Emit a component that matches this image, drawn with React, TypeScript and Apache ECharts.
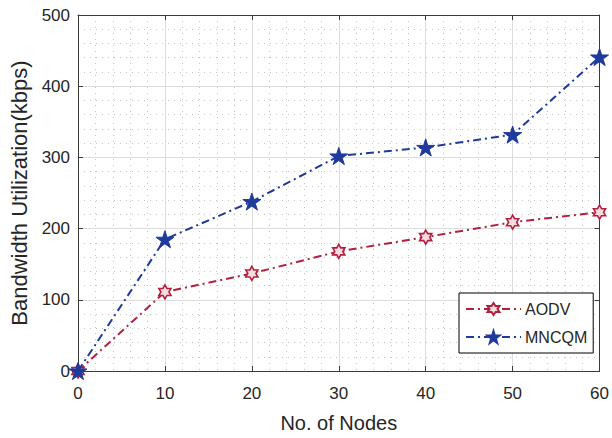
import React, { useEffect, useRef } from "react";
import * as echarts from "echarts";

const nodes = [0, 10, 20, 30, 40, 50, 60];
const aodv = [0, 111, 137, 168, 188, 209, 223];
const mncqm = [0, 185, 238, 302, 314, 332, 441];
const seriesNames = ["AODV", "MNCQM"];
const xAxisName = "No. of Nodes";
const yAxisName = "Bandwidth Utilization(kbps)";

const HEXAGRAM =
  "path://M50,0L64.43,25L93.3,25L78.87,50L93.3,75L64.43,75L50,100L35.57,75L6.7,75L21.13,50L6.7,25L35.57,25Z";
const PENTAGRAM =
  "path://M50,0L61.2,34.55L97.55,34.55L68.2,55.9L79.4,90.45L50,69.1L20.6,90.45L31.8,55.9L2.45,34.55L38.8,34.55Z";

const RED = "#b41f3c";
const BLUE = "#1e3a9c";
const FONT = "Liberation Sans";
const TEXT = "#262626";
const AXIS = "#3a3a3a";

export default function App() {
  const ref = useRef<HTMLDivElement>(null);
  useEffect(() => {
    if (!ref.current) return;
    const chart = echarts.init(ref.current, undefined, { renderer: "svg" });
    const minorSplit = {
      show: true,
      lineStyle: { color: "#c4c4c4", width: 1, type: [1, 5] as any },
    };
    const majorSplit = { show: true, lineStyle: { color: "#dcdcdc", width: 1 } };
    const dash = [8, 4, 2, 4];
    chart.setOption({
      animation: false,
      backgroundColor: "#ffffff",
      textStyle: { fontFamily: FONT },
      grid: { left: 78, right: 10, top: 15, bottom: 67 },
      legend: {
        orient: "vertical",
        left: 459,
        top: 293,
        width: 137,
        padding: [8, 6, 8, 6],
        itemGap: 12,
        itemWidth: 55,
        itemHeight: 15,
        borderColor: "#000000",
        borderWidth: 1,
        backgroundColor: "#ffffff",
        borderRadius: 0,
        data: seriesNames,
        textStyle: { fontFamily: FONT, fontSize: 16, color: TEXT, padding: [0, 0, 0, -1] },
      },
      xAxis: [
        {
          type: "value",
          min: 0,
          max: 60,
          interval: 10,
          name: xAxisName,
          nameLocation: "middle",
          nameGap: 42,
          nameTextStyle: { fontFamily: FONT, fontSize: 20, color: TEXT },
          axisLine: { show: true, onZero: false, lineStyle: { color: AXIS, width: 1 } },
          axisTick: { show: true, inside: true, length: 5, lineStyle: { color: AXIS } },
          axisLabel: { fontFamily: FONT, fontSize: 17, color: TEXT, margin: 14 },
          splitLine: majorSplit,
          minorTick: { show: false, splitNumber: 5 },
          minorSplitLine: minorSplit,
        },
        {
          type: "value",
          position: "top",
          min: 0,
          max: 60,
          interval: 10,
          axisLine: { show: true, onZero: false, lineStyle: { color: AXIS, width: 1 } },
          axisTick: { show: true, inside: true, length: 5, lineStyle: { color: AXIS } },
          axisLabel: { show: false },
          splitLine: { show: false },
        },
      ],
      yAxis: [
        {
          type: "value",
          min: 0,
          max: 500,
          interval: 100,
          name: yAxisName,
          nameLocation: "middle",
          nameGap: 44,
          nameTextStyle: { fontFamily: FONT, fontSize: 22, color: TEXT },
          axisLine: { show: true, onZero: false, lineStyle: { color: AXIS, width: 1 } },
          axisTick: { show: true, inside: true, length: 5, lineStyle: { color: AXIS } },
          axisLabel: { fontFamily: FONT, fontSize: 17, color: TEXT, margin: 8 },
          splitLine: majorSplit,
          minorTick: { show: false, splitNumber: 5 },
          minorSplitLine: minorSplit,
        },
        {
          type: "value",
          position: "right",
          min: 0,
          max: 500,
          interval: 100,
          axisLine: { show: true, onZero: false, lineStyle: { color: AXIS, width: 1 } },
          axisTick: { show: true, inside: true, length: 5, lineStyle: { color: AXIS } },
          axisLabel: { show: false },
          splitLine: { show: false },
        },
      ],
      series: [
        {
          name: seriesNames[0],
          type: "line",
          data: nodes.map((x, i) => [x, aodv[i]]),
          symbol: HEXAGRAM,
          symbolSize: 14,
          symbolKeepAspect: true,
          lineStyle: { color: RED, width: 2, type: dash as any },
          itemStyle: { color: "#f6dde2", borderColor: RED, borderWidth: 1.6 },
          color: RED,
          z: 3,
        },
        {
          name: seriesNames[1],
          type: "line",
          data: nodes.map((x, i) => [x, mncqm[i]]),
          symbol: PENTAGRAM,
          symbolSize: 18,
          symbolKeepAspect: true,
          lineStyle: { color: BLUE, width: 2, type: dash as any },
          itemStyle: { color: BLUE, borderColor: BLUE, borderWidth: 1 },
          color: BLUE,
          z: 4,
        },
      ],
    });
    return () => chart.dispose();
  }, []);
  return <div ref={ref} style={{ width: 612, height: 438, position: "absolute", left: 0, top: 0 }} />;
}
